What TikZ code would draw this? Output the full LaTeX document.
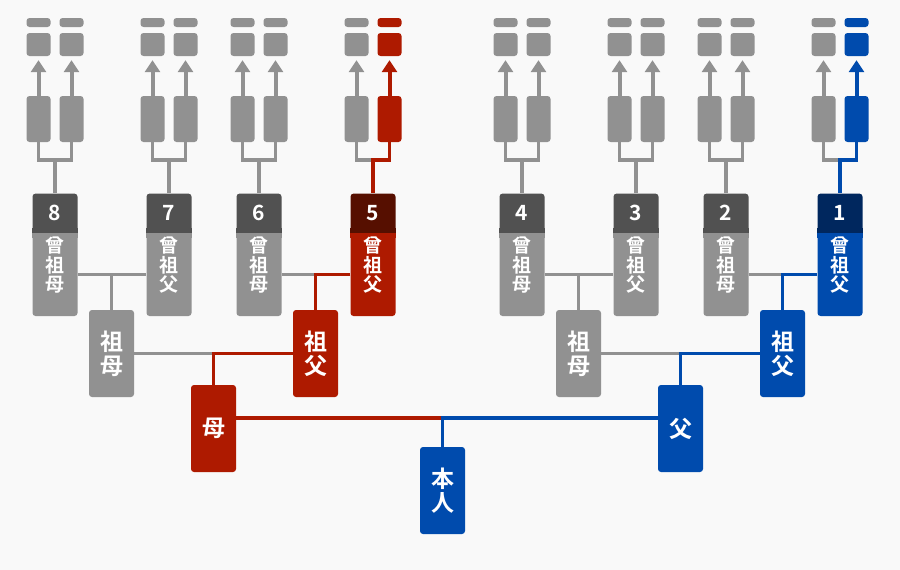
\documentclass[tikz,border=0pt]{standalone}
\usepackage{fontspec}
\newfontfamily\cjk{Noto Sans CJK JP}[BoldFont={Noto Sans CJK JP Bold}]
\usetikzlibrary{positioning,arrows.meta}
\definecolor{bgc}{HTML}{F9F9F9}
\definecolor{fgray}{HTML}{919191}
\definecolor{dgray}{HTML}{515151}
\definecolor{fred}{HTML}{AE1A00}
\definecolor{dred}{HTML}{560F00}
\definecolor{fblue}{HTML}{004BAD}
\definecolor{dblue}{HTML}{00275E}
\begin{document}
\begin{tikzpicture}[x=1pt,y=-1pt]
        \tikzstyle{boxbase}=[rectangle,rounded corners=3pt,inner sep=0pt,fill=fgray,text=white]
        \tikzstyle{topbar}=[boxbase,minimum width=24pt,minimum height=9pt]
        \tikzstyle{smallbox}=[boxbase,minimum width=24pt,minimum height=23pt]
        \tikzstyle{tallbox}=[boxbase,minimum width=24pt,minimum height=46pt]
        \tikzstyle{gghead}=[boxbase,minimum width=45pt,minimum height=39pt,font=\cjk\bfseries\fontsize{21}{22}\selectfont]
        \tikzstyle{ggbody}=[boxbase,minimum width=45pt,minimum height=83pt]
        \tikzstyle{ggtext}=[inner sep=0pt,text=white,align=center,font=\cjk\bfseries\fontsize{19}{19.5}\selectfont]
        \tikzstyle{person}=[boxbase,minimum width=45pt,minimum height=87pt,align=center,font=\cjk\bfseries\fontsize{23}{24}\selectfont]
        \tikzstyle{link}=[draw=fgray,line width=3.5pt]
        \tikzstyle{uparrow}=[draw=fgray,line width=4pt,-{Triangle[width=15pt,length=12pt]},shorten >=4pt]
        \fill[bgc] (0,0) rectangle (900,570);
        \useasboundingbox (0,0) rectangle (900,570);
       % great-grandparents and the generations above them
       \foreach \n/\cx/\c/\w in {8/55/gray/母,7/169/gray/父,6/259/gray/母,5/373/red/父,
                                  4/522/gray/母,3/636/gray/父,2/726/gray/母,1/840/blue/父} {
         \node [ggbody,fill=f\c] (body\n) at (\cx,274.5) {};
         \node [gghead,fill=d\c,above=0pt of body\n] (head\n) {\n};
         \fill[d\c] (head\n.south west) rectangle ([yshift=5pt]head\n.south east);
         \fill[f\c] (body\n.north west) rectangle ([yshift=-5pt]body\n.north east);
         \node [ggtext] (txt\n) at ([yshift=9pt]body\n.center) {曾\\祖\\\w};
         \node [tallbox] (tl\n) at (\cx-16.5,119) {};
         \node [tallbox,fill=f\c] (tr\n) at (\cx+16.5,119) {};
         \node [smallbox] (sl\n) at (\cx-16.5,44.5) {};
         \node [smallbox,fill=f\c] (sr\n) at (\cx+16.5,44.5) {};
         \node [topbar] (bl\n) at (\cx-16.5,22.5) {};
         \node [topbar,fill=f\c] (br\n) at (\cx+16.5,22.5) {};
         \draw[uparrow] (tl\n.north) -- (sl\n.south);
         \draw[uparrow,draw=f\c] (tr\n.north) -- (sr\n.south);
         \coordinate (j\n) at (\cx,160);
         \draw[link] (tl\n.south) |- (j\n);
         \draw[link,draw=f\c] (tr\n.south) |- (j\n) -- (head\n.north);
       }
       % grandparents, parents, self
       \node [person] (gmL) at (111.5,353.5) {祖\\母};
       \node [person,fill=fred] (gfL) at (315.5,353.5) {祖\\父};
       \node [person] (gmR) at (578.5,353.5) {祖\\母};
       \node [person,fill=fblue] (gfR) at (782.5,353.5) {祖\\父};
       \node [person,fill=fred] (mo) at (213.5,428.5) {母};
       \node [person,fill=fblue] (fa) at (680.5,428.5) {父};
       \node [person,fill=fblue] (self) at (442.5,490.5) {本\\人};
       % links
       \path[link] (body8.east) -- (body7.west);
       \path[link] (gmL.north) -- (gmL.north |- body8.east);
       \path[link] (body4.east) -- (body3.west);
       \path[link] (gmR.north) -- (gmR.north |- body4.east);
       \coordinate (k6) at (gfL.north |- body6.east);
       \path[link] (body6.east) -- (k6);
       \path[link,draw=fred] (body5.west) -- (k6) -- (gfL.north);
       \coordinate (k2) at (gfR.north |- body2.east);
       \path[link] (body2.east) -- (k2);
       \path[link,draw=fblue] (body1.west) -- (k2) -- (gfR.north);
       \coordinate (kL) at (mo.north |- gmL.east);
       \path[link] (gmL.east) -- (kL);
       \path[link,draw=fred] (gfL.west) -- (kL) -- (mo.north);
       \coordinate (kR) at (fa.north |- gmR.east);
       \path[link] (gmR.east) -- (kR);
       \path[link,draw=fblue] (gfR.west) -- (kR) -- (fa.north);
       \coordinate (mP) at ([yshift=10.5pt]mo.east);
       \coordinate (kS) at (self.north |- mP);
       \path[link,draw=fred] (mP) -- (kS);
       \path[link,draw=fblue] (fa.west |- mP) -- (kS) -- (self.north);
      \end{tikzpicture}
\end{document}
